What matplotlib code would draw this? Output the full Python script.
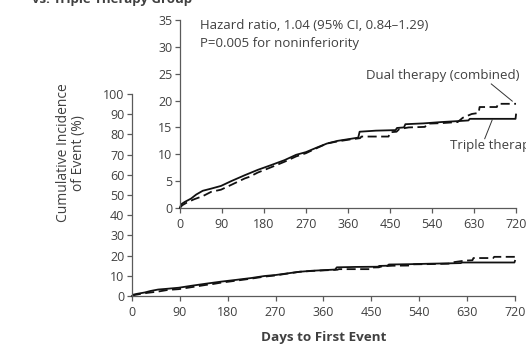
import numpy as np
import matplotlib.pyplot as plt

plt.rcParams['font.family'] = ['Open Sans', 'DejaVu Sans']

# (days, cumulative incidence %); repeated-looking pairs are the jumps
days_triple = [0, 3, 10, 24, 35, 49, 67, 88, 110, 139, 167, 196, 224, 249, 270, 292,
               315, 338, 360, 382, 385, 420, 462, 465, 480, 483, 521, 560, 600, 618,
               621, 719, 720]
pct_triple = [0, 0.7, 1.1, 1.75, 2.5, 3.2, 3.6, 4.1, 5.0, 6.1, 7.1, 8.0, 8.9, 9.9, 10.4, 11.2,
              12.0, 12.5, 12.8, 13.1, 14.2, 14.4, 14.5, 14.9, 15.0, 15.6, 15.75, 16.0, 16.2, 16.3,
              16.6, 16.6, 17.4]

days_dual = [0, 5, 15, 30, 49, 67, 88, 110, 139, 149, 167, 196, 224, 249, 270, 292, 315,
             338, 360, 386, 389, 447, 450, 464, 470, 490, 525, 530, 560, 595, 606, 625,
             640, 642, 679, 681, 720]
pct_dual = [0, 0.5, 1.0, 1.6, 2.2, 3.0, 3.4, 4.3, 5.5, 5.8, 6.6, 7.6, 8.6, 9.6, 10.2, 11.1, 12.0,
            12.4, 12.7, 13.0, 13.3, 13.3, 14.1, 14.2, 14.7, 15.0, 15.1, 15.7, 15.8, 16.0, 16.8, 17.5,
            17.7, 18.8, 18.8, 19.4, 19.4]

x_ticks = [0, 90, 180, 270, 360, 450, 540, 630, 720]
main_yticks = list(range(0, 101, 10))
inset_yticks = list(range(0, 36, 5))

txt = '#404040'
ax_col = '#5a5a5a'


def style(ax, ymax, yticks):
    ax.set_xlim(0, 720)
    ax.set_ylim(0, ymax)
    ax.set_xticks(x_ticks)
    ax.set_yticks(yticks)
    ax.spines['top'].set_visible(False)
    ax.spines['right'].set_visible(False)
    for s in ['left', 'bottom']:
        ax.spines[s].set_color(ax_col)
        ax.spines[s].set_linewidth(0.9)
    ax.tick_params(direction='out', length=3.5, width=0.9, color=ax_col,
                   labelsize=9, labelcolor=txt, pad=2)
    ax.tick_params(axis='x', pad=3.5)
    ax.patch.set_alpha(0)


def curves(ax):
    ax.plot(days_triple, pct_triple, color='#111111', lw=1.3, clip_on=False)
    ax.plot(days_dual, pct_dual, color='#111111', lw=1.3, dashes=(5, 2.5), clip_on=False)


fig = plt.figure(figsize=(5.26, 3.46), dpi=100)

ax = fig.add_axes([0.251, 0.1445, 0.728, 0.5835])
style(ax, 100, main_yticks)
curves(ax)

ins = fig.add_axes([0.342, 0.399, 0.639, 0.543])
style(ins, 35, inset_yticks)
curves(ins)

ins.text(43, 34.0, 'Hazard ratio, 1.04 (95% CI, 0.84\u20131.29)', fontsize=9.5, color=txt,
         va='center', ha='left')
ins.text(43, 30.7, 'P=0.005 for noninferiority', fontsize=9.5, color=txt,
         va='center', ha='left')

ins.text(728, 24.6, 'Dual therapy (combined)', fontsize=9.5, color=txt,
         va='center', ha='right', clip_on=False)
ins.plot([667, 712], [23.1, 19.9], color='#333333', lw=0.7, clip_on=False)

ins.text(578, 11.6, 'Triple therapy', fontsize=9.5, color=txt,
         va='center', ha='left', clip_on=False)
ins.plot([669, 653], [16.4, 12.9], color='#333333', lw=0.7, clip_on=False)

fig.text(0.135, 0.558, 'Cumulative Incidence\nof Event (%)', rotation=90, fontsize=10,
         color=txt, ha='center', va='center', linespacing=1.05)
fig.text(0.615, 0.026, 'Days to First Event', fontsize=9.7, fontweight='bold',
         color=txt, ha='center', va='center')
fig.text(0.06, 0.991, 'vs. Triple Therapy Group', fontsize=9.5, fontweight='bold',
         color=txt, ha='left', va='baseline')

fig.savefig('out.png', dpi=100)
